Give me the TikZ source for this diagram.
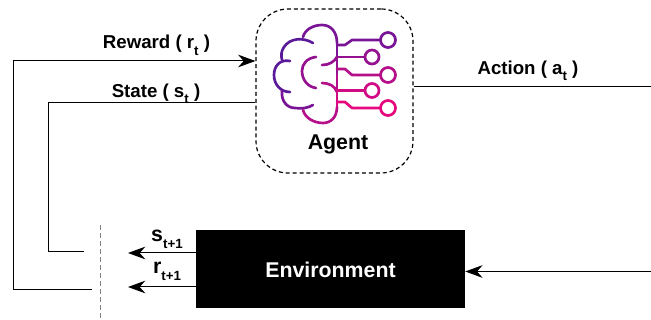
\documentclass[tikz,border=0pt]{standalone}
\usepackage{fontspec}
\setmainfont{Liberation Sans}
\usetikzlibrary{arrows.meta}

\definecolor{brainA}{HTML}{5A1A9A}
\definecolor{brainB}{HTML}{7A1496}
\definecolor{brainC}{HTML}{94128F}
\definecolor{brainD}{HTML}{B50F8A}
\definecolor{brainE}{HTML}{D00B85}
\definecolor{brainF}{HTML}{E6087F}

\newcommand{\subtxt}[1]{\raisebox{-0.65ex}{\fontsize{10}{10}\selectfont #1}}

\tikzset{
	agentbox/.style={draw, line width=0.9pt, dash pattern=on 3pt off 2.2pt, rounded corners=24pt, minimum width=117.75pt, minimum height=123pt},
	envbox/.style={fill=black, text=white, font=\bfseries\fontsize{16}{16}\selectfont, minimum width=201.75pt, minimum height=58.5pt},
	sigtext/.style={font=\bfseries\fontsize{14}{14}\selectfont},
	steptext/.style={font=\bfseries\fontsize{16}{16}\selectfont},
	link/.style={line width=0.75pt},
	wire/.style={line width=2pt, line cap=round, line join=round},
	pin/.style={line width=2pt, fill=white}
}

\begin{document}
\begin{tikzpicture}[x=0.75pt, y=-0.75pt, >={Stealth[length=13pt,width=9.5pt]}, every node/.style={inner sep=1pt}]
	\useasboundingbox (0,0) rectangle (651,320);

	% Main boxes
	\node[agentbox] (agent) at (334.5,91) {};
	\node[envbox] (env) at (330.5,269.5) {Environment};
	\node[font=\bfseries\fontsize{16}{16}\selectfont] (agentname) at (338,144) {Agent};

	% Free ends of the connectors
	\coordinate (rewardfoot) at (92,290);
	\coordinate (rewardcorner) at (13,290);
	\coordinate (rewardtop) at (13,61);
	\coordinate (statefoot) at (84,252);
	\coordinate (statecorner) at (48,252);
	\coordinate (statetop) at (48,103);
	\coordinate (actionend) at (651,87);
	\coordinate (envin) at (651,271.5);
	\coordinate (sout) at (128,253);
	\coordinate (rout) at (128,287);
	\coordinate (gatetop) at (100,225);
	\coordinate (gatebot) at (100,318);

	% Feedback and action lines
	\draw[link, ->] (rewardfoot) -- (rewardcorner) -- (rewardtop) -- (rewardtop -| agent.west);
	\draw[link] (statefoot) -- (statecorner) -- (statetop) -- (statetop -| agent.west);
	\draw[link] (agent.east |- actionend) -- (actionend);
	\draw[link, ->] (envin) -- (envin -| env.east);
	\draw[link, ->] (sout -| env.west) -- (sout);
	\draw[link, ->] (rout -| env.west) -- (rout);
	\draw[link, gray, dash pattern=on 3.5pt off 2.5pt] (gatetop) -- (gatebot);

	% Labels
	\node[sigtext] (rewardlabel) at (156.5,45.5) {Reward ( r\subtxt{t} )};
	\node[sigtext] (statelabel) at (156,94) {State ( s\subtxt{t} )};
	\node[sigtext] (actionlabel) at (528,71) {Action ( a\subtxt{t} )};
	\node[steptext] (snext) at (167,239) {s\subtxt{t+1}};
	\node[steptext] (rnext) at (167,271) {r\subtxt{t+1}};

	% Brain outline
	\draw[wire, brainB] (303,37) .. controls (305,29) and (314,25) .. (322,25) .. controls (331,25) and (337,32) .. (337,43);
	\draw[wire, brainA] (313,43) .. controls (303,37) and (290,38) .. (284,47) .. controls (281,51) and (281,56) .. (282,60);
	\draw[wire, brainA] (290,61) .. controls (280,59) and (274,66) .. (274,75) .. controls (274,85) and (281,92) .. (290,92);
	\draw[wire, brainB] (282,91) .. controls (281,101) and (287,108) .. (295,108) .. controls (302,109) and (308,108) .. (313,105);
	\draw[wire, brainC] (316,57) .. controls (307,58) and (302,64) .. (302,71) .. controls (302,80) and (308,87) .. (316,88);
	\draw[wire, brainC] (322,65) .. controls (329,65) and (334,62) .. (337,57);
	\draw[wire, brainD] (322,83) .. controls (329,83) and (335,86) .. (337,92);
	\draw[wire, brainD] (303,110) .. controls (305,118) and (314,123) .. (323,123) .. controls (331,123) and (337,117) .. (337,107);

	% Spine
	\draw[wire, brainB] (337,43) -- (337,57);
	\draw[wire, brainC] (337,57) -- (337,75);
	\draw[wire, brainD] (337,75) -- (337,92);
	\draw[wire, brainE] (337,92) -- (337,107);

	% Circuit pins
	\draw[wire, brainB] (337,45) -- (345,45) -- (352,40) -- (380,40);
	\draw[pin, draw=brainB] (388,40) circle[radius=7.5];
	\draw[wire, brainC] (337,57) -- (365,57);
	\draw[pin, draw=brainC] (372,57) circle[radius=7];
	\draw[wire, brainD] (337,69) -- (345,69) -- (352,75) -- (380,75);
	\draw[pin, draw=brainD] (388,75) circle[radius=7.5];
	\draw[wire, brainE] (337,90.5) -- (365,90.5);
	\draw[pin, draw=brainE] (372,90.5) circle[radius=7];
	\draw[wire, brainF] (337,102) -- (345,102) -- (352,108) -- (380,108);
	\draw[pin, draw=brainF] (388,108) circle[radius=7.5];
\end{tikzpicture}
\end{document}
